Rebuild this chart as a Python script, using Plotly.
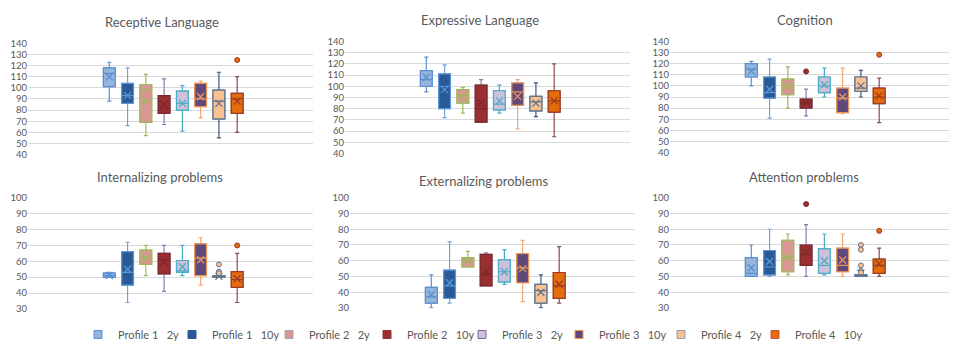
import plotly.graph_objects as go

S = "\u00a0\u00a0\u00a0"
profiles = ["Profile 1" + S + "2y", "Profile 1" + S + "10y", "Profile 2" + S + "2y", "Profile 2" + S + "10y",
            "Profile 3" + S + "2y", "Profile 3" + S + "10y", "Profile 4" + S + "2y", "Profile 4" + S + "10y"]

titles = ["Receptive Language", "Expressive Language", "Cognition",
          "Internalizing problems", "Externalizing problems", "Attention problems"]

# Receptive Language
REC_LO = [88, 66, 57, 67, 61, 73, 55, 60]
REC_Q1 = [101, 86, 69, 77, 80, 83, 72, 77]
REC_MED = [113, 93, 98, 81, 86, 90, 88, 90]
REC_Q3 = [118, 104, 103, 93, 97, 104, 98, 95]
REC_HI = [123, 118, 112, 108, 102, 106, 114, 110]
REC_MEAN = [110, 93, 88, 85, 86, 92, 86, 88]
REC_OUT = [[], [], [], [], [], [], [], [125]]

# Expressive Language
EXP_LO = [95, 72, 76, 68, 76, 62, 73, 55]
EXP_Q1 = [100, 80, 85, 68, 79, 83, 78, 77]
EXP_MED = [106, 100, 92, 80, 84, 95, 86, 87]
EXP_Q3 = [114, 111, 97, 101, 96, 103, 91, 96]
EXP_HI = [126, 119, 99, 106, 101, 106, 103, 120]
EXP_MEAN = [108, 97, 90, 85, 87, 91, 85, 87]
EXP_OUT = [[], [], [], [], [], [], [], []]

# Cognition
COG_LO = [100, 71, 80, 73, 90, 75, 90, 67]
COG_Q1 = [108, 89, 92, 80, 94, 76, 95, 84]
COG_MED = [115, 94, 100, 85, 100, 89, 98, 90]
COG_Q3 = [120, 108, 106, 88, 108, 98, 108, 98]
COG_HI = [122, 124, 117, 97, 116, 116, 114, 107]
COG_MEAN = [113, 97, 100, 85, 101, 90, 100, 91]
COG_OUT = [[], [], [], [113], [], [], [], [128]]

# Internalizing problems
INT_LO = [50, 34, 51, 41, 51, 45, 50, 34]
INT_Q1 = [50, 45, 58, 52, 53, 51, 50, 43.5]
INT_MED = [51, 53, 63, 61, 54, 62, 50.5, 48.5]
INT_Q3 = [52.5, 66, 67, 65, 60.5, 71, 51, 53.5]
INT_HI = [53, 72, 70, 70, 70, 75, 51, 65]
INT_MEAN = [51, 55, 62, 59.5, 56.5, 61, 50.5, 49]
INT_OUT = [[], [], [], [], [], [], [58, 53.5, 52.5], [70]]

# Externalizing problems
EXT_LO = [30, 33, 56, 44, 45, 34, 30, 33]
EXT_Q1 = [33, 36, 56, 44, 46.5, 46, 33, 36]
EXT_MED = [37, 44, 60, 51, 53, 55.5, 41, 44]
EXT_Q3 = [43, 54, 62, 64, 60.5, 64.5, 45, 52.5]
EXT_HI = [51, 72, 66, 65, 67, 73, 51, 69]
EXT_MEAN = [38.5, 46, 60, 53.5, 53, 55, 40, 45]
EXT_OUT = [[], [], [], [], [], [], [], []]

# Attention problems
ATT_LO = [50, 50, 51, 50, 51, 50, 50, 50]
ATT_Q1 = [50, 51, 53, 57, 52, 53, 50, 52]
ATT_MED = [52, 56, 62, 64, 57, 57, 50.5, 57]
ATT_Q3 = [62, 66.5, 73, 70, 67.5, 68, 51, 61]
ATT_HI = [70, 80, 77, 83, 77, 77, 51, 68]
ATT_MEAN = [55.5, 59.5, 62, 65.5, 60, 60.5, 52, 58]
ATT_OUT = [[], [], [], [96], [], [], [70, 67, 57, 53.5, 52.5], [79]]

y_ranges = [[40, 140], [40, 140], [40, 140], [30, 100], [30, 100], [30, 100]]

FILL = ["#95B5DE", "#2A5A96", "#DA9694", "#9A2E30", "#CCC0DA", "#60497A", "#FAC090", "#E46C0A"]
BORDER = ["#5B8FD0", "#5B96D6", "#9BBB59", "#7A2A2A", "#4BACC6", "#E8975A", "#5F7691", "#9C3B25"]
WHISK = ["#5B8FD0", "#6FA2DD", "#9BBB59", "#8C78B0", "#4BACC6", "#F2A878", "#3B5878", "#8C4A48"]
LEG_LINE = ["#5B8FD0", "#2A5A96", "#A6A6A6", "#9A2E30", "#8064A2", "#F79646", "#8EA0B8", "#C0504D"]

stats = [
    (REC_LO, REC_Q1, REC_MED, REC_Q3, REC_HI, REC_MEAN, REC_OUT),
    (EXP_LO, EXP_Q1, EXP_MED, EXP_Q3, EXP_HI, EXP_MEAN, EXP_OUT),
    (COG_LO, COG_Q1, COG_MED, COG_Q3, COG_HI, COG_MEAN, COG_OUT),
    (INT_LO, INT_Q1, INT_MED, INT_Q3, INT_HI, INT_MEAN, INT_OUT),
    (EXT_LO, EXT_Q1, EXT_MED, EXT_Q3, EXT_HI, EXT_MEAN, EXT_OUT),
    (ATT_LO, ATT_Q1, ATT_MED, ATT_Q3, ATT_HI, ATT_MEAN, ATT_OUT),
]

# The page body has an 8px default margin: the figure is sized to fill the rest of the window.
OFF = 8
W, H = 957 - OFF, 354 - OFF
def px(x):
    return (x - OFF) / W
def py(y):
    return 1 - (y - OFF) / H

# plot areas in window pixels: (left, right, top, bottom)
areas = [(28, 313, 39, 154), (345, 630, 37, 153), (670, 955, 37, 152),
         (28, 313, 198, 313), (350, 635, 198, 312), (670, 955, 198, 312)]
title_pos = [(162, 17), (480, 15), (805, 15), (160, 177), (483, 181), (804, 177)]
legend_marker_x = [103, 197, 294, 392, 487, 584, 686, 780]

FONT = "Lato, 'Open Sans', sans-serif"
fig = go.Figure()
layout = {}
for i, (lo, q1, med, q3, hi, mean, outs) in enumerate(stats):
    n = "" if i == 0 else str(i + 1)
    xa, ya = "x" + n, "y" + n
    for j, name in enumerate(profiles):
        # whiskers (full fences) in the whisker colour
        fig.add_trace(go.Box(
            x=[name], q1=[q1[j]], median=[med[j]], q3=[q3[j]],
            lowerfence=[lo[j]], upperfence=[hi[j]],
            name=name, legendgroup=name, showlegend=False,
            fillcolor=FILL[j], line=dict(color=WHISK[j], width=1.2),
            whiskerwidth=0.35, boxpoints=False, hoverinfo="skip",
            xaxis=xa, yaxis=ya))
        # box body with its own border colour
        fig.add_trace(go.Box(
            x=[name], q1=[q1[j]], median=[med[j]], q3=[q3[j]],
            lowerfence=[q1[j]], upperfence=[q3[j]],
            name=name, legendgroup=name, showlegend=False,
            fillcolor=FILL[j], line=dict(color=BORDER[j], width=1.2),
            whiskerwidth=0, boxpoints=False, hoverinfo="skip",
            xaxis=xa, yaxis=ya))
        fig.add_trace(go.Scatter(
            x=[name], y=[mean[j]], mode="markers", showlegend=False, hoverinfo="skip",
            marker=dict(symbol="x-thin-open", size=7, color=BORDER[j],
                        line=dict(color=BORDER[j], width=1.3)),
            xaxis=xa, yaxis=ya))
        if outs[j]:
            fig.add_trace(go.Scatter(
                x=[name] * len(outs[j]), y=outs[j], mode="markers", showlegend=False,
                hoverinfo="skip",
                marker=dict(symbol="circle", size=5, color=FILL[j],
                            line=dict(color=BORDER[j], width=1)),
                xaxis=xa, yaxis=ya))
    l, r, t, b = areas[i]
    layout["xaxis" + n] = dict(domain=[px(l), px(r)], anchor=ya, type="category",
                               categoryorder="array", categoryarray=profiles,
                               range=[-4.45, 11.15], showticklabels=False, showgrid=False,
                               zeroline=False, showline=False, ticks="")
    layout["yaxis" + n] = dict(domain=[py(b), py(t)], anchor=xa,
                               range=[y_ranges[i][0] - 0.2, y_ranges[i][1] + 0.2], dtick=10, tick0=0,
                               gridcolor="#D9D9D9", gridwidth=1, zeroline=False, showline=False,
                               ticks="", tickfont=dict(size=9.5, color="#595959", family=FONT))
    tx, ty = title_pos[i]
    fig.add_annotation(x=px(tx), y=py(ty), xref="paper", yref="paper",
                       text=titles[i], showarrow=False, xanchor="center", yanchor="middle",
                       font=dict(size=13, color="#595959", family=FONT))

# legend entries (one per series), each in its own legend box so spacing matches
for j, name in enumerate(profiles):
    lg = "legend" if j == 0 else "legend" + str(j + 1)
    fig.add_trace(go.Scatter(
        x=[None], y=[None], mode="markers", name=name, legendgroup=name, showlegend=True,
        legend=lg,
        marker=dict(symbol="square", size=8, color=FILL[j], line=dict(color=LEG_LINE[j], width=1)),
        hoverinfo="skip", xaxis="x", yaxis="y"))
    layout[lg] = dict(orientation="h", x=px(legend_marker_x[j] - 25), xanchor="left",
                      y=0, yanchor="bottom", itemwidth=30,
                      font=dict(size=11, color="#595959", family=FONT),
                      bgcolor="rgba(0,0,0,0)")

fig.update_layout(**layout)
fig.update_layout(
    width=W, height=H, margin=dict(l=0, r=0, t=0, b=0),
    paper_bgcolor="white", plot_bgcolor="white",
    boxmode="overlay", boxgap=0.08,
    font=dict(family=FONT, color="#595959"),
)
fig.write_html("out.html")
